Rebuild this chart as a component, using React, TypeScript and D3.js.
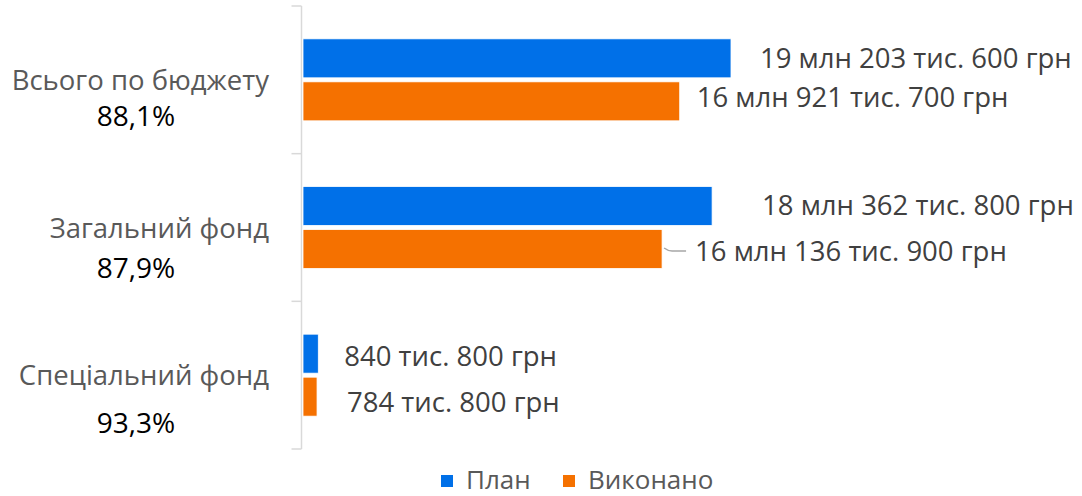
import React from 'react';
import * as d3 from 'd3';

// values in thousands of UAH
const categories = ['Всього по бюджету', 'Загальний фонд', 'Спеціальний фонд'];
const seriesNames = ['План', 'Виконано'];
const planValues = [19203.6, 18362.8, 840.8];
const doneValues = [16921.7, 16136.9, 784.8];
const axisMin = 160;

const colors = ['#0070E8', '#F57100'];
const FONT = "'Open Sans', 'Noto Sans', sans-serif";

// label nudges (dx from bar end, dy from bar centre to baseline)
const labelDx = [[29, 50, 26], [17, 33, 30]];
const labelDy = [[10, 9, 12], [6, 12, 15]];
const pctDy = [46, 50, 58];

const fmtMoney = (v: number) => {
  const uah = Math.round(v * 1000);
  const mln = Math.floor(uah / 1000000);
  const ths = Math.floor((uah % 1000000) / 1000);
  const rest = uah % 1000;
  const pad = (n: number) => String(n).padStart(3, '0');
  return (mln > 0 ? `${mln} млн ${pad(ths)}` : `${ths}`) + ` тис. ${pad(rest)} грн`;
};
const fmtPct = (a: number, b: number) => (a / b * 100).toFixed(1).replace('.', ',') + '%';

const App = () => {
  const width = 1082, height = 496;
  const axisX = 301.5;
  const y = d3.scaleBand<string>().domain(categories).range([6, 449]);
  const x = d3.scaleLinear().domain([axisMin, planValues[0]]).range([303, 731]);
  const barH = 39, gap = 4;
  const series = [planValues, doneValues];

  return (
    <svg width={width} height={height} style={{ position: 'absolute', left: 0, top: 0, background: '#fff' }} fontFamily={FONT}>
      {/* axis */}
      <line x1={axisX} x2={axisX} y1={y.range()[0]} y2={y.range()[1]} stroke="#d9d9d9" strokeWidth={1.5} />
      {[...categories.map(c => y(c)!), y.range()[1]].map((t, i) => (
        <line key={i} x1={axisX - 10} x2={axisX} y1={t} y2={t} stroke="#d9d9d9" strokeWidth={1.5} />
      ))}
      {categories.map((c, ci) => {
        const cy = y(c)! + y.bandwidth() / 2;
        return (
          <g key={c}>
            <text x={269} y={cy + 10} textAnchor="end" fontSize={27.5} fill="#595959">{c}</text>
            <text x={136} y={cy + pctDy[ci]} textAnchor="middle" fontSize={28} fill="#000">
              {fmtPct(doneValues[ci], planValues[ci])}
            </text>
            {series.map((vals, si) => {
              const top = cy - barH - gap / 2 + si * (barH + gap);
              const end = x(vals[ci]);
              return (
                <g key={si}>
                  <rect x={303} y={top} width={end - 303} height={barH} fill={colors[si]} stroke="#fff" strokeWidth={0.8} />
                  <text x={end + labelDx[si][ci]} y={top + barH / 2 + labelDy[si][ci]} fontSize={27.5} fill="#404040">
                    {fmtMoney(vals[ci])}
                  </text>
                </g>
              );
            })}
          </g>
        );
      })}
      {/* leader line for 'Загальний фонд' execution label */}
      {(() => {
        const ex = x(doneValues[1]);
        const cy = y(categories[1])! + y.bandwidth() / 2 + gap / 2 + barH / 2;
        return <path d={`M${ex + 2},${cy - 1} Q${ex + 6},${cy + 2} ${ex + 10},${cy + 2} L${ex + 24},${cy + 2}`} fill="none" stroke="#a6a6a6" strokeWidth={1.5} />;
      })()}
      {/* legend */}
      {seriesNames.map((n, i) => {
        const lx = [441, 563][i];
        return (
          <g key={n}>
            <rect x={lx} y={475} width={12} height={12} fill={colors[i]} />
            <text x={lx + 25} y={489} fontSize={26} fill="#595959">{n}</text>
          </g>
        );
      })}
    </svg>
  );
};

export default App;
